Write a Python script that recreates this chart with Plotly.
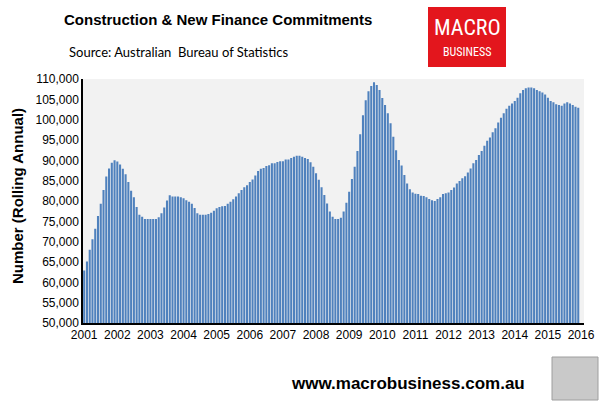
import plotly.graph_objects as go

# Monthly rolling-annual number of construction & new finance commitments (thousands)
values_k = [
    62.9, 65.1, 68.0, 70.6, 73.2, 76.3, 79.3, 82.7, 86.0, 88.0, 89.4, 90.0,
    89.7, 89.0, 87.9, 86.6, 84.7, 82.5, 80.9, 78.5, 76.6, 76.1, 75.6, 75.6,
    75.6, 75.6, 75.6, 76.0, 77.0, 78.4, 80.1, 81.4, 81.1, 81.1, 81.1, 80.9,
    80.7, 80.2, 79.8, 79.3, 78.3, 77.0, 76.6, 76.6, 76.6, 76.8, 77.1, 77.6,
    78.2, 78.5, 78.7, 78.8, 79.3, 79.8, 80.4, 81.1, 81.9, 82.7, 83.4, 83.9,
    84.7, 85.3, 86.3, 87.4, 87.9, 88.1, 88.6, 88.8, 89.3, 89.3, 89.6, 89.8,
    89.8, 90.2, 90.2, 90.6, 90.9, 91.1, 91.1, 90.9, 90.6, 90.3, 89.5, 88.4,
    86.8, 85.2, 83.4, 81.5, 79.4, 77.4, 76.1, 75.6, 75.6, 75.9, 77.4, 79.6,
    82.3, 85.4, 88.4, 92.3, 96.4, 101.1, 104.8, 107.0, 108.3, 109.2, 108.5, 107.3,
    105.3, 103.6, 101.6, 99.1, 95.8, 92.5, 90.1, 88.7, 86.4, 84.3, 82.9, 82.1,
    81.8, 81.7, 81.3, 81.2, 80.9, 80.5, 80.2, 80.0, 80.5, 80.9, 81.7, 81.9,
    82.1, 82.7, 83.3, 84.3, 84.9, 85.6, 86.1, 87.0, 88.0, 89.3, 90.1, 91.3,
    92.3, 93.6, 94.8, 95.6, 96.9, 97.9, 99.3, 100.5, 101.6, 102.7, 103.4, 104.0,
    104.6, 105.4, 106.5, 107.3, 107.7, 107.9, 107.9, 107.7, 107.3, 107.0, 106.7, 106.2,
    105.4, 104.6, 104.3, 103.8, 103.6, 103.4, 104.0, 104.3, 104.0, 103.6, 103.2, 102.9,
]
values = [v * 1000 for v in values_k]
start_year = 2001
months = [start_year + i / 12 for i in range(len(values))]
year_ticks = list(range(2001, 2017))
year_labels = [str(y) for y in year_ticks]

title_text = "Construction & New Finance Commitments"
source_text = "Source: Australian  Bureau of Statistics"
y_title = "Number (Rolling Annual)"
footer_text = "www.macrobusiness.com.au"

W, H = 608, 404
L, R, T, B = 83, 24, 79, 81
pw, ph = W - L - R, H - T - B

def px(x):
    return (x - L) / pw

def py(y):
    return (H - B - y) / ph

fig = go.Figure(go.Bar(
    x=months, y=values,
    marker=dict(color="#4F81BD", line=dict(width=0)),
))

fig.update_layout(
    width=W, height=H,
    margin=dict(l=L, r=R, t=T, b=B, pad=0),
    paper_bgcolor="white",
    plot_bgcolor="#F2F2F2",
    bargap=0.25,
    showlegend=False,
    font=dict(family="Liberation Sans, Arial, sans-serif", color="black", size=12),
    xaxis=dict(
        range=[2000.964, 2016.09],
        tickvals=year_ticks, ticktext=year_labels,
        showline=True, linecolor="black", linewidth=1.5,
        showgrid=False, zeroline=False, ticks="",
        tickfont=dict(size=12, color="black"),
    ),
    yaxis=dict(
        range=[50000, 110000], dtick=5000, tick0=50000,
        tickformat=",d",
        showline=True, linecolor="black", linewidth=1.5,
        showgrid=False, zeroline=False, ticks="",
        tickfont=dict(size=12, color="black"),
    ),
)

ann = []
ann.append(dict(text="<b>" + title_text + "</b>", x=px(62), y=py(20), xref="paper", yref="paper",
                xanchor="left", yanchor="middle", showarrow=False,
                font=dict(size=15, family="Liberation Sans, Arial", color="black")))
ann.append(dict(text=source_text, x=px(67), y=py(52), xref="paper", yref="paper",
                xanchor="left", yanchor="middle", showarrow=False,
                font=dict(size=13, family="Lato, Liberation Sans", color="black")))
ann.append(dict(text="<b>" + y_title + "</b>", x=px(17), y=py(196), xref="paper", yref="paper",
                xanchor="center", yanchor="middle", textangle=-90, showarrow=False,
                font=dict(size=15, family="Liberation Sans, Arial", color="black")))
ann.append(dict(text="<b>" + footer_text + "</b>", x=px(527), y=py(383), xref="paper", yref="paper",
                xanchor="right", yanchor="middle", showarrow=False,
                font=dict(size=17, family="Liberation Sans, Arial", color="black")))
# logo texts
ann.append(dict(text="MACRO", x=px(467), y=py(28), xref="paper", yref="paper",
                xanchor="center", yanchor="middle", showarrow=False,
                font=dict(size=22, family="Liberation Sans Narrow, Roboto Condensed, Liberation Sans", color="white")))
ann.append(dict(text="BUSINESS", x=px(467), y=py(52), xref="paper", yref="paper",
                xanchor="center", yanchor="middle", showarrow=False,
                font=dict(size=12, family="Liberation Sans Narrow, Roboto Condensed, Liberation Sans", color="white")))
fig.update_layout(annotations=ann)

shapes = []
shapes.append(dict(type="rect", xref="paper", yref="paper",
                   x0=px(428), x1=px(506), y0=py(67), y1=py(7),
                   fillcolor="#E3161D", line=dict(width=0), layer="above"))
shapes.append(dict(type="rect", xref="paper", yref="paper",
                   x0=px(552), x1=px(598), y0=py(400), y1=py(357),
                   fillcolor="#C9C9C9", line=dict(width=1, color="#9E9E9E"), layer="above"))
fig.update_layout(shapes=shapes)

fig.write_html("out.html", config={"displayModeBar": False},
               post_script="document.body.style.margin='0';document.body.style.padding='0';")
